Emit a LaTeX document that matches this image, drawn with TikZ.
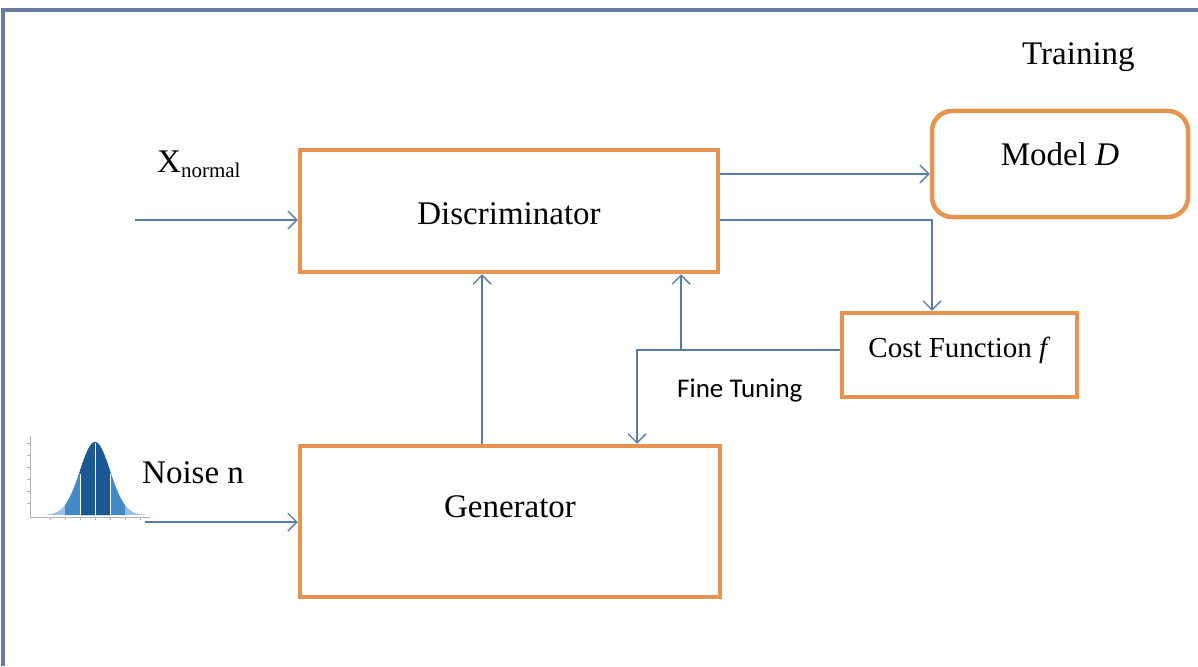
\documentclass[tikz,border=0pt]{standalone}
\usepackage{fontspec}
\setmainfont{Liberation Serif}
\newfontfamily\calib{Carlito}
\usetikzlibrary{arrows.meta}
\definecolor{boxorange}{RGB}{231,148,80}
\definecolor{linkblue}{RGB}{88,124,166}
\definecolor{framegray}{RGB}{104,126,160}
\definecolor{belldark}{RGB}{28,88,145}
\definecolor{bellmid}{RGB}{66,138,198}
\definecolor{belllight}{RGB}{150,192,228}
\tikzset{
  blockbox/.style={draw=boxorange, line width=4.5pt, inner sep=0pt, fill=white,
    font=\fontsize{33}{36}\selectfont},
  link/.style={draw=linkblue, line width=1.4pt,
    -{Straight Barb[length=9pt,width=18pt,line width=1.4pt]}},
  lbl/.style={inner sep=0pt, font=\fontsize{33}{36}\selectfont},
}
\begin{document}
\begin{tikzpicture}[x=1pt,y=-1pt]
\useasboundingbox (0,0) rectangle (1198,666);
\fill[white] (0,0) rectangle (1198,666);
% outer frame (top and left edges)
\draw[framegray, line width=4.5pt] (3,666) -- (3,10) -- (1198,10);

% blocks
\node[blockbox, minimum width=418pt, text height=74pt, text depth=48pt] (disc) at (509,211) {Discriminator};
\node[blockbox, minimum width=420pt, text height=71pt, text depth=80pt] (gen) at (510,521.5) {Generator};
\node[blockbox, rounded corners=20pt, minimum width=256pt, text height=54pt, text depth=52pt] (model) at (1060,164) {Model \textit{D}};
\node[blockbox, minimum width=235pt, text height=44pt, text depth=40pt, font=\fontsize{29}{32}\selectfont] (cost) at (959.5,355) {Cost Function \textit{f}};

% labels
\node[lbl, anchor=base west] (train) at (1022,65) {Training};
\node[lbl, anchor=base west] (xnorm) at (157,172) {X\raisebox{-5pt}{\fontsize{21}{22}\selectfont normal}};
\node[lbl, anchor=base west] (noise) at (142,483) {Noise n};
\node[inner sep=0pt, anchor=base west, font=\calib\fontsize{27}{29}\selectfont] (fine) at (677,397) {Fine Tuning};

% bell curve of the noise distribution
\begin{scope}
  \draw[gray!60, line width=0.8pt] (30,436) -- (30,517) -- (150,517);
  \foreach \t in {443,455,467,479,491,503} \draw[gray!60, line width=0.6pt] (27,\t) -- (30,\t);
  \foreach \t in {50,65,80,95,110,125,140} \draw[gray!60, line width=0.6pt] (\t,517) -- (\t,520);
  \fill[belllight] plot[domain=-55:55, samples=80] ({95+\x},{515-73*exp(-(\x*\x)/450)}) -- cycle;
  \fill[bellmid] plot[domain=-30:30, samples=60] ({95+\x},{515-73*exp(-(\x*\x)/450)}) -- (125,515) -- (65,515) -- cycle;
  \fill[belldark] plot[domain=-15:15, samples=40] ({95+\x},{515-73*exp(-(\x*\x)/450)}) -- (110,515) -- (80,515) -- cycle;
  \draw[white, line width=0.8pt] (95,443) -- (95,515);
  \draw[white, line width=0.5pt] (80,474) -- (80,515) (110,474) -- (110,515);
\end{scope}

% anchor rows and columns for the connectors
\coordinate (xin) at (135,220);
\coordinate (nin) at (145,522);
\coordinate (rowA) at (0,174);
\coordinate (rowB) at (0,220);
\coordinate (rowC) at (0,350);
\coordinate (colX) at (932,0);
\coordinate (colG) at (482,0);
\coordinate (colF) at (637,0);
\coordinate (colD) at (681,0);

% connectors
\draw[link] (xin) -- (xin -| disc.west);
\draw[link] (nin) -- (nin -| gen.west);
\draw[link] (disc.east |- rowA) -- (model.west |- rowA);
\draw[link] (disc.east |- rowB) -| (cost.north -| colX);
\draw[link] (gen.north -| colG) -- (disc.south -| colG);
\draw[link] (cost.west |- rowC) -- (colF |- rowC) -- (gen.north -| colF);
\draw[link] (colD |- rowC) -- (disc.south -| colD);
\end{tikzpicture}
\end{document}
